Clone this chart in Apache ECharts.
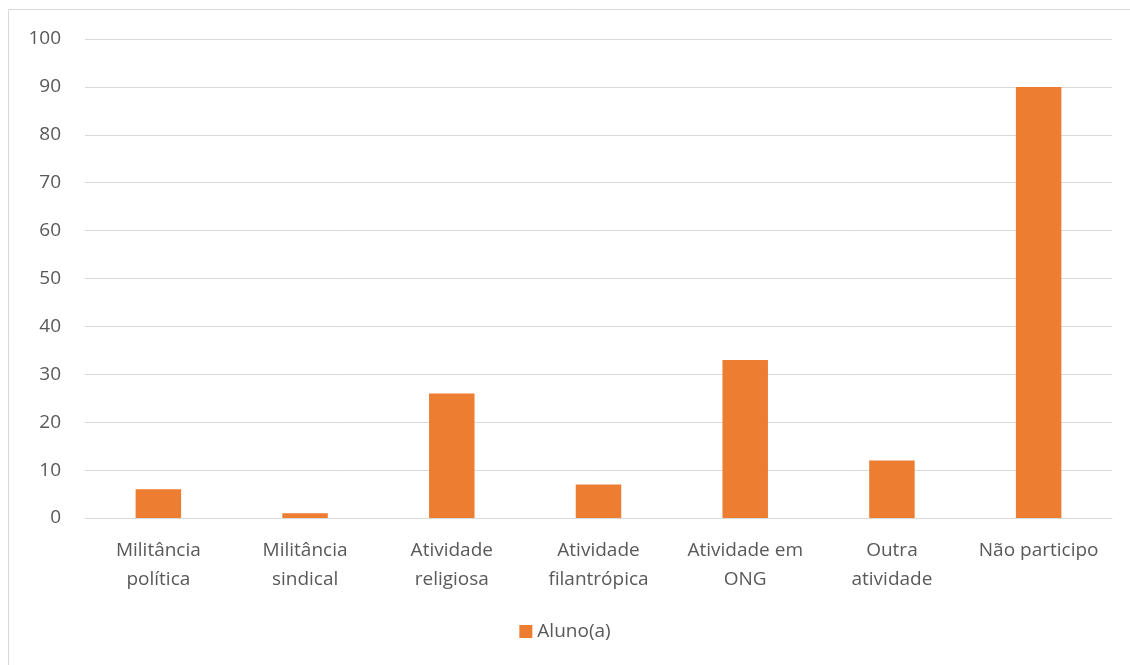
<!DOCTYPE html>
<html>
<head>
<meta charset="utf-8">
<script src="https://cdn.jsdelivr.net/npm/echarts@6/dist/echarts.min.js"></script>
<style>html,body{margin:0;padding:0;background:#fff;}#c{width:1130px;height:665px;}</style>
</head>
<body>
<div id="c"></div>
<script>
const categories = ['Militância\npolítica', 'Militância\nsindical', 'Atividade\nreligiosa', 'Atividade\nfilantrópica', 'Atividade em\nONG', 'Outra\natividade', 'Não participo'];
const seriesName = 'Aluno(a)';
const values = [6, 1, 26, 7, 33, 12, 90];
const yTicks = {min: 0, max: 100, interval: 10};

const chart = echarts.init(document.getElementById('c'));
const font = '"Open Sans", Lato, sans-serif';
chart.setOption({
  animation: false,
  graphic: [{type: 'rect', shape: {x: 8.5, y: 9.5, width: 1140, height: 670}, style: {fill: 'none', stroke: '#d9d9d9', lineWidth: 1}}],
  grid: {left: 85, right: 18, top: 39, bottom: 147},
  legend: {data: [seriesName], bottom: 19, left: 'center', itemWidth: 13, itemHeight: 13, icon: 'rect', itemGap: 6,
    textStyle: {color: '#595959', fontSize: 19, fontFamily: font}},
  xAxis: {type: 'category', data: categories,
    axisLine: {lineStyle: {color: '#d9d9d9', width: 1}}, axisTick: {show: false},
    axisLabel: {color: '#595959', fontSize: 19, fontFamily: font, lineHeight: 29, margin: 18, interval: 0}},
  yAxis: {type: 'value', min: yTicks.min, max: yTicks.max, interval: yTicks.interval,
    axisLine: {show: false}, axisTick: {show: false},
    splitLine: {lineStyle: {color: '#d9d9d9', width: 1}},
    axisLabel: {color: '#595959', fontSize: 19, fontFamily: font, margin: 24, padding: [3, 0, 0, 0]}},
  series: [{name: seriesName, type: 'bar', data: values, barWidth: '31%', itemStyle: {color: '#ED7D31'}}]
});
</script>
</body>
</html>
